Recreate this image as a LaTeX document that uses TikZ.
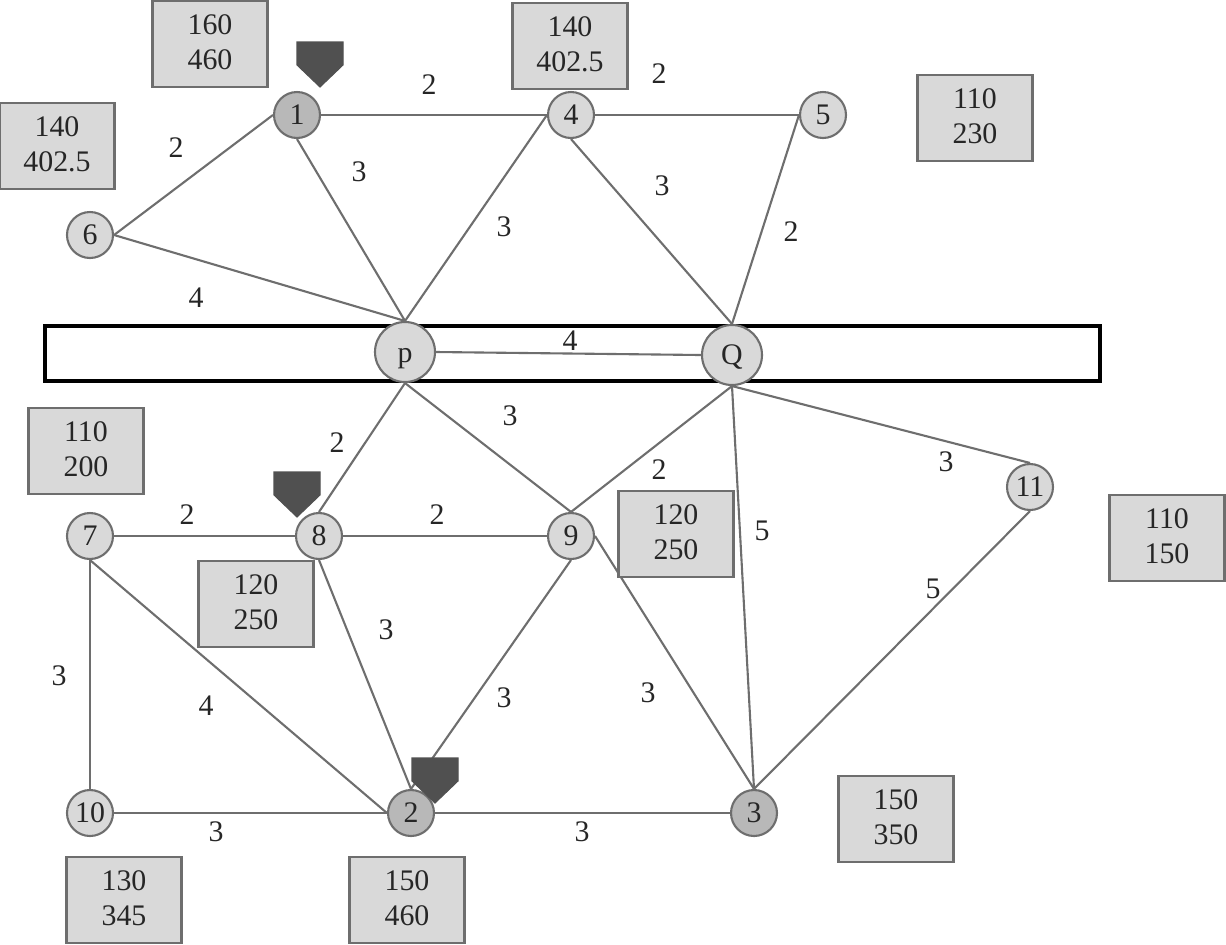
\documentclass[tikz,border=0pt]{standalone}
\usepackage{fontspec}
\setmainfont{Liberation Serif}
\usepackage{xcolor}
\definecolor{boxgray}{HTML}{D9D9D9}
\definecolor{srcgray}{HTML}{B8B8B8}
\definecolor{linegray}{HTML}{6E6E6E}
\definecolor{shieldgray}{HTML}{505050}
\tikzset{
    numfont/.style={font=\fontsize{17}{20}\selectfont, text=black!85},
    busnode/.style={circle, draw=linegray, line width=1.2pt, fill=boxgray, minimum size=0.92cm, inner sep=0pt, numfont},
    srcnode/.style={busnode, fill=srcgray},
    bignode/.style={busnode, minimum size=1.2cm, text depth=0pt},
    databox/.style={draw=linegray, line width=1.2pt, fill=boxgray, minimum width=2.3cm, minimum height=1.72cm, align=center, inner sep=0pt, numfont, execute at end node=\rule[-2pt]{0pt}{0pt}},
    weight/.style={inner sep=1pt, numfont},
    edge/.style={draw=linegray, line width=1.2pt},
    shield/.style={draw=shieldgray, fill=shieldgray, line width=0.6pt}
}

\begin{document}
\begin{tikzpicture}[x=0.02cm, y=-0.02cm]
    \useasboundingbox (0,0) rectangle (1226,944);

    % bar
    \draw[line width=1.8pt, fill=white] (45,326) rectangle (1100,381);

    % upper nodes
    \node[srcnode] (n1) at (297,115) {1};
    \node[busnode] (n4) at (571,115) {4};
    \node[busnode] (n5) at (823,115) {5};
    \node[busnode] (n6) at (90,235) {6};
    \node[bignode] (p) at (405,352) {\raisebox{-5.7pt}[0pt][0pt]{p}};
    \node[bignode] (Q) at (732,355) {Q};

    % lower nodes
    \node[busnode] (n7) at (90,536) {7};
    \node[busnode] (n8) at (319,536) {8};
    \node[busnode] (n9) at (571,536) {9};
    \node[busnode] (n11) at (1030,487) {11};
    \node[busnode] (n10) at (90,813) {10};
    \node[srcnode] (n2) at (411,813) {2};
    \node[srcnode] (n3) at (754,813) {3};

    % connectors
    \draw[edge] (n6.east) -- (n1.west);
    \draw[edge] (n6.east) -- (p.north);
    \draw[edge] (n1.south) -- (p.north);
    \draw[edge] (n1.east) -- (n4.west);
    \draw[edge] (n4.west) -- (p.north);
    \draw[edge] (n4.east) -- (n5.west);
    \draw[edge] (n4.south) -- (Q.north);
    \draw[edge] (n5.west) -- (Q.north);
    \draw[edge] (p.east) -- (Q.west);
    \draw[edge] (p.south) -- (n8.north);
    \draw[edge] (p.south) -- (n9.north);
    \draw[edge] (Q.south) -- (n9.north);
    \draw[edge] (Q.south) -- (n3.north);
    \draw[edge] (Q.south) -- (n11.north);
    \draw[edge] (n11.south) -- (n3.north);
    \draw[edge] (n7.east) -- (n8.west);
    \draw[edge] (n8.east) -- (n9.west);
    \draw[edge] (n7.south) -- (n10.north);
    \draw[edge] (n7.south) -- (n2.west);
    \draw[edge] (n8.south) -- (n2.north);
    \draw[edge] (n9.south) -- (n2.north);
    \draw[edge] (n9.east) -- (n3.north);
    \draw[edge] (n10.east) -- (n2.west);
    \draw[edge] (n2.east) -- (n3.west);

    % markers
    \draw[shield] (297,42) -- ++(46,0) -- ++(0,23) -- ++(-23,22) -- ++(-23,-22) -- cycle;
    \draw[shield] (274,472) -- ++(46,0) -- ++(0,23) -- ++(-23,22) -- ++(-23,-22) -- cycle;
    \draw[shield] (412,758) -- ++(46,0) -- ++(0,23) -- ++(-23,22) -- ++(-23,-22) -- cycle;

    % data boxes
    \node[databox] (b1) at (210,44) {160\\460};
    \node[databox] (b6) at (57,146) {140\\402.5};
    \node[databox] (b4) at (570,46) {140\\402.5};
    \node[databox] (b5) at (975,118) {110\\230};
    \node[databox] (b7) at (86,451) {110\\200};
    \node[databox] (b9) at (676,534) {120\\250};
    \node[databox] (b8) at (256,604) {120\\250};
    \node[databox] (b11) at (1167,538) {110\\150};
    \node[databox] (b3) at (896,819) {150\\350};
    \node[databox] (b10) at (124,900) {130\\345};
    \node[databox] (b2) at (407,900) {150\\460};

    % weights, upper half
    \node[weight] (w14) at (429,85) {2};
    \node[weight] (w45) at (659,74) {2};
    \node[weight] (w16) at (176,148) {2};
    \node[weight] (w1p) at (359,172) {3};
    \node[weight] (w4Q) at (662,186) {3};
    \node[weight] (w4p) at (504,227) {3};
    \node[weight] (w5Q) at (791,232) {2};
    \node[weight] (w6p) at (196,298) {4};
    \node[weight] (wpQ) at (570,341) {4};

    % weights, lower half
    \node[weight] (wp9) at (510,416) {3};
    \node[weight] (wp8) at (337,443) {2};
    \node[weight] (wQ9) at (659,470) {2};
    \node[weight] (wQ11) at (946,462) {3};
    \node[weight] (w78) at (187,515) {2};
    \node[weight] (w89) at (437,515) {2};
    \node[weight] (wQ3) at (762,531) {5};
    \node[weight] (w113) at (933,589) {5};
    \node[weight] (w82) at (386,630) {3};
    \node[weight] (w710) at (59,676) {3};
    \node[weight] (w92) at (504,698) {3};
    \node[weight] (w93) at (648,693) {3};
    \node[weight] (w72) at (206,706) {4};
    \node[weight] (w102) at (216,832) {3};
    \node[weight] (w23) at (582,832) {3};
\end{tikzpicture}
\end{document}
